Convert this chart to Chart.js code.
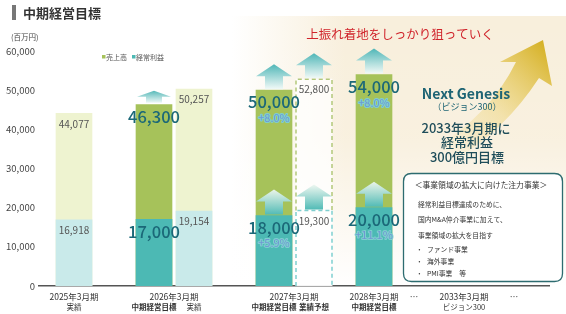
<!DOCTYPE html>
<html><head><meta charset="utf-8">
<script src="https://cdn.jsdelivr.net/npm/chart.js@4/dist/chart.umd.min.js"></script>
<style>html,body{margin:0;padding:0;background:#fff;}#wrap{width:566px;height:314px;position:relative}</style>
</head><body><div id="wrap"><canvas id="c" width="566" height="314"></canvas></div>
<script>
// ---- data ----
const categories = ['2025年3月期','2026年3月期','2026年3月期','2027年3月期','2027年3月期','2028年3月期','…','2033年3月期','…'];
const subLabels  = ['実績','中期経営目標','実績','中期経営目標','業績予想','中期経営目標','','ビジョン300',''];
const kinds      = ['actual','target','actual','target','forecast','target','','',''];
const salesValues  = [44077, 46300, 50257, 50000, 52800, 54000, null, null, null];
const profitValues = [16918, 17000, 19154, 18000, 19300, 20000, null, null, null];
const salesGrowth  = ['', '', '', '+8.0%', '', '+8.0%', '', '', ''];
const profitGrowth = ['', '', '', '+5.9%', '', '+11.1%', '', '', ''];
const yTicks = [0, 10000, 20000, 30000, 40000, 50000, 60000];
const seriesNames = ['売上高', '経常利益'];

// ---- layout (slot grid on the category axis) ----
const SLOT_COUNT = 51;
const categorySlots = [3, 11, 15, 23, 27, 33, 37, 42, 47];
const yearGroups = [[0],[1,2],[3,4],[5],[6],[7],[8]];

const labels = Array(SLOT_COUNT).fill('');
const salesData = Array(SLOT_COUNT).fill(null);
const profitData = Array(SLOT_COUNT).fill(null);
categories.forEach((c,i)=>{ const s=categorySlots[i]; labels[s]=c+' '+subLabels[i]; salesData[s]=salesValues[i]; profitData[s]=profitValues[i]; });

const COL = {
  salesActual:'#eef3d0', salesTarget:'#a6c25a',
  profitActual:'#c9eaea', profitTarget:'#4cb9b4',
  forecastFill:'rgba(255,255,255,0.75)'
};
function colorFor(kind, series){
  if (kind==='forecast') return COL.forecastFill;
  if (series==='sales') return kind==='target'?COL.salesTarget:COL.salesActual;
  return kind==='target'?COL.profitTarget:COL.profitActual;
}
const salesColors = labels.map((_,s)=>{const i=categorySlots.indexOf(s);return i<0?'rgba(0,0,0,0)':colorFor(kinds[i],'sales');});
const profitColors = labels.map((_,s)=>{const i=categorySlots.indexOf(s);return i<0?'rgba(0,0,0,0)':colorFor(kinds[i],'profit');});

const JP = '"Noto Sans CJK JP","Noto Sans",sans-serif';

function roundRect(ctx,x,y,w,h,r){
  ctx.beginPath();
  ctx.moveTo(x+r,y);ctx.lineTo(x+w-r,y);ctx.quadraticCurveTo(x+w,y,x+w,y+r);
  ctx.lineTo(x+w,y+h-r);ctx.quadraticCurveTo(x+w,y+h,x+w-r,y+h);
  ctx.lineTo(x+r,y+h);ctx.quadraticCurveTo(x,y+h,x,y+h-r);
  ctx.lineTo(x,y+r);ctx.quadraticCurveTo(x,y,x+r,y);ctx.closePath();
}
function upArrow(ctx,cx,bottom,h,headH,headW,shaftW,cTop,cBot){
  const top=bottom-h;
  const g=ctx.createLinearGradient(0,top,0,bottom);
  g.addColorStop(0,cTop);g.addColorStop(1,cBot);
  ctx.fillStyle=g;
  ctx.beginPath();
  ctx.moveTo(cx,top);
  ctx.lineTo(cx+headW/2,top+headH);
  ctx.lineTo(cx+shaftW/2,top+headH);
  ctx.lineTo(cx+shaftW/2,bottom);
  ctx.lineTo(cx-shaftW/2,bottom);
  ctx.lineTo(cx-shaftW/2,top+headH);
  ctx.lineTo(cx-headW/2,top+headH);
  ctx.closePath();ctx.fill();
}
function txt(ctx,s,x,y,font,color,align,stroke,sw){
  ctx.setLineDash([]);
  ctx.font=font;ctx.textAlign=align||'center';ctx.textBaseline='middle';
  if(stroke){ctx.lineJoin='round';ctx.strokeStyle=stroke;ctx.lineWidth=sw||2;ctx.strokeText(s,x,y);}
  ctx.fillStyle=color;ctx.fillText(s,x,y);
}

const decoBack = {
  id:'decoBack',
  beforeDraw(chart){
    const ctx=chart.ctx;ctx.save();
    ctx.fillStyle='#fff';ctx.fillRect(0,0,566,314);
    // warm background panel
    let g=ctx.createLinearGradient(232,0,345,0);
    g.addColorStop(0,'rgba(248,239,220,0)');g.addColorStop(1,'rgba(248,239,220,1)');
    ctx.fillStyle=g;ctx.fillRect(232,16,334,272);
    let v=ctx.createLinearGradient(0,16,0,288);
    v.addColorStop(0,'rgba(255,255,255,0)');v.addColorStop(0.45,'rgba(255,255,255,0.1)');v.addColorStop(1,'rgba(255,255,255,1)');
    ctx.fillStyle=v;ctx.fillRect(232,16,334,272);
    // gold arrow
    const ga=ctx.createLinearGradient(440,150,545,45);
    ga.addColorStop(0,'rgba(232,200,80,0)');ga.addColorStop(0.45,'rgba(232,200,80,0.35)');ga.addColorStop(1,'rgba(214,178,40,1)');
    ctx.fillStyle=ga;
    ctx.beginPath();
    ctx.moveTo(543,40);
    ctx.lineTo(552,86);
    ctx.lineTo(539,78);
    ctx.quadraticCurveTo(505,130,455,160);
    ctx.lineTo(432,150);
    ctx.quadraticCurveTo(490,115,516,62);
    ctx.lineTo(500,62);
    ctx.closePath();ctx.fill();
    // title
    ctx.fillStyle='#777';ctx.fillRect(12,5,4,15);
    txt(ctx,'中期経営目標',23,13,'bold 13px '+JP,'#333','left');
    txt(ctx,'(百万円)',11,37,'7.5px '+JP,'#444','left');
    // legend
    ctx.fillStyle=COL.salesTarget;ctx.fillRect(102,55,3.5,3.5);
    txt(ctx,seriesNames[0],106,57,'7px '+JP,'#555','left');
    ctx.fillStyle=COL.profitTarget;ctx.fillRect(132,55,3.5,3.5);
    txt(ctx,seriesNames[1],136,57,'7px '+JP,'#555','left');
    // red headline
    txt(ctx,'上振れ着地をしっかり狙っていく',400,34,'12.5px '+JP,'#d0242b');
    ctx.restore();
  }
};

const decoFront = {
  id:'decoFront',
  afterDatasetsDraw(chart){
    const ctx=chart.ctx;ctx.save();
    const sm=chart.getDatasetMeta(1), pm=chart.getDatasetMeta(0);
    const base=chart.scales.y.getPixelForValue(0);
    const items=[];
    categories.forEach((c,i)=>{
      if(salesValues[i]==null) return;
      const s=categorySlots[i];
      const se=sm.data[s], pe=pm.data[s];
      items.push({i,x:se.x,w:se.width,ys:se.y,yp:pe.y,k:kinds[i]});
    });
    // pass 1: dashed outlines and arrows
    items.forEach(({i,x,w,ys,yp,k})=>{
      if(k==='forecast'){
        ctx.setLineDash([4,3]);ctx.lineWidth=1.5;
        ctx.strokeStyle='#b3c77a';
        ctx.beginPath();ctx.moveTo(x-w/2,yp);ctx.lineTo(x-w/2,ys);ctx.lineTo(x+w/2,ys);ctx.lineTo(x+w/2,yp);ctx.stroke();
        ctx.strokeStyle='#7fcfcf';
        ctx.beginPath();ctx.moveTo(x-w/2,base);ctx.lineTo(x-w/2,yp);ctx.lineTo(x+w/2,yp);ctx.lineTo(x+w/2,base);ctx.stroke();
        ctx.setLineDash([]);
      }
      if(k==='target'||k==='forecast'){
        const big = k!=='target' || i!==1;
        if(big){
          upArrow(ctx,x,ys-1,25,12,36,18,'#4fb6b7','rgba(240,249,247,0.95)');
          upArrow(ctx,x,yp-1,25,12,36,18,'rgba(238,247,240,0.95)','#52bbb6');
        } else {
          upArrow(ctx,x,ys-2,12,6,34,16,'#55b8b8','rgba(235,247,245,0.95)');
        }
      }
    });
    // pass 2: value labels
    items.forEach(({i,x,ys,yp,k})=>{
      if(k==='target'){
        const f='500 16.5px '+JP;
        txt(ctx,salesValues[i].toLocaleString('en-US'),x,ys+12,f,'#1b6878');
        txt(ctx,profitValues[i].toLocaleString('en-US'),x,yp+12,f,'#1b6878');
        if(salesGrowth[i]) txt(ctx,salesGrowth[i],x,ys+28,'11px '+JP,'#6f98d3','#ffffff',2.5);
        if(profitGrowth[i]) txt(ctx,profitGrowth[i],x,yp+27,'11px '+JP,'#6f98d3','#ffffff',2.5);
      } else {
        const f='10px '+JP;
        txt(ctx,salesValues[i].toLocaleString('en-US'),x,ys+10.5,f,'#555');
        txt(ctx,profitValues[i].toLocaleString('en-US'),x,yp+10.5,f,'#555');
      }
    });
    ctx.restore();
  },
  afterDraw(chart){
    const ctx=chart.ctx;ctx.save();
    const xs=chart.scales.x;
    // category labels
    yearGroups.forEach(gr=>{
      const px=gr.map(i=>xs.getPixelForValue(categorySlots[i]));
      const cx=px.reduce((a,b)=>a+b,0)/px.length;
      txt(ctx,categories[gr[0]],cx,297,'8.5px '+JP,'#333');
      gr.forEach((i,j)=>{ if(subLabels[i]) txt(ctx,subLabels[i],px[j],307,(kinds[i]==='target'||kinds[i]==='forecast'?'bold ':'')+'7.5px '+JP,'#333'); });
    });
    // right-side vision text
    txt(ctx,'Next Genesis',466,94,'bold 14px '+JP,'#1e6474');
    txt(ctx,'（ビジョン300）',467,107,'9px '+JP,'#1e6474');
    txt(ctx,'2033年3月期に',466,128,'500 13px '+JP,'#1f4d5a');
    txt(ctx,'経常利益',467,142,'500 13px '+JP,'#1f4d5a');
    txt(ctx,'300億円目標',467,157,'500 13px '+JP,'#1f4d5a');
    // box
    roundRect(ctx,403.5,173.5,159,108,8);
    ctx.fillStyle='#fff';ctx.fill();
    ctx.strokeStyle='#2d6c70';ctx.lineWidth=1.3;ctx.stroke();
    txt(ctx,'＜事業領域の拡大に向けた注力事業＞',481,185,'7.8px '+JP,'#333');
    const bl=['経常利益目標達成のために、','国内M&A仲介事業に加えて、','事業領域の拡大を目指す'];
    bl.forEach((s,j)=>txt(ctx,s,418,204+j*15.5,'6.8px '+JP,'#333','left'));
    ['ファンド事業','海外事業','PMI事業　等'].forEach((s,j)=>{
      txt(ctx,'・',416,249+j*12,'6.8px '+JP,'#333','left');
      txt(ctx,s,427,249+j*12,'6.8px '+JP,'#333','left');
    });
    ctx.restore();
  }
};

new Chart(document.getElementById('c'),{
  type:'bar',
  data:{labels,datasets:[
    {label:seriesNames[1],data:profitData,backgroundColor:profitColors,barThickness:36,borderWidth:0},
    {label:seriesNames[0],data:salesData,backgroundColor:salesColors,barThickness:36,borderWidth:0}
  ]},
  options:{
    responsive:false,animation:false,devicePixelRatio:1,
    layout:{padding:{top:51,right:17,left:0,bottom:0}},
    plugins:{legend:{display:false},tooltip:{enabled:false}},
    scales:{
      x:{stacked:true,grid:{display:false,drawTicks:false},ticks:{display:false},
         border:{display:true,color:'#555',width:1.5},
         afterFit(s){s.height=28;}},
      y:{stacked:false,min:0,max:60000,
         afterBuildTicks(s){s.ticks=yTicks.map(v=>({value:v}));},
         grid:{display:false,drawTicks:false},border:{display:false},
         ticks:{padding:4,color:'#444',font:{family:JP,size:9.5},callback:v=>v.toLocaleString('en-US')},
         afterFit(s){s.width=39;}}
    }
  },
  plugins:[decoBack,decoFront]
});
</script></body></html>
